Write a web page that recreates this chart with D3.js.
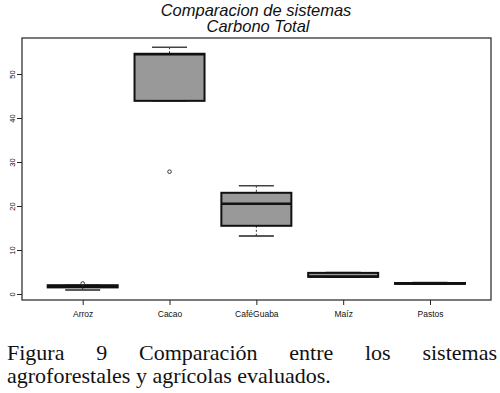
<!DOCTYPE html>
<html>
<head>
<meta charset="utf-8">
<script src="https://cdn.jsdelivr.net/npm/d3@7"></script>
<style>
  body { margin: 0; background: #fff; }
  svg { display: block; }
  .title { font-family: "Liberation Sans", Arial, sans-serif; font-style: italic; font-size: 16.5px; fill: #111; }
  .tick text { font-family: "Liberation Sans", Arial, sans-serif; fill: #111; }
  .caption { font-family: "Liberation Serif", "Times New Roman", serif; font-size: 22px; fill: #111; }
</style>
</head>
<body>
<svg id="chart"></svg>
<script>
// data
var categories = ["Arroz", "Cacao", "CaféGuaba", "Maíz", "Pastos"];
var mins    = [0.9, 43.9, 13.2, 3.8, 2.2];
var q1s     = [1.5, 43.9, 15.5, 3.9, 2.3];
var medians = [1.7, 54.5, 20.5, 4.0, 2.4];
var q3s     = [2.0, 54.6, 23.0, 4.8, 2.5];
var maxs    = [2.0, 56.1, 24.6, 4.9, 2.6];
var outliers = [{cat: "Arroz", value: 2.4}, {cat: "Cacao", value: 27.8}];
var yTicks = [0, 10, 20, 30, 40, 50];

var width = 500, height = 393;
var box = {left: 22, top: 38, right: 491, bottom: 300};

var svg = d3.select("#chart").attr("width", width).attr("height", height);

var x = d3.scalePoint().domain(categories).range([82.7, 430]);
var y = d3.scaleLinear().domain([0, 50]).range([294, 74]);
var boxW = 70;

var stats = categories.map(function(c, i){
    return {cat: c, min: mins[i], q1: q1s[i], med: medians[i], q3: q3s[i], max: maxs[i]};
});

// titles
svg.append("text").attr("class", "title").attr("x", 256).attr("y", 16)
    .attr("text-anchor", "middle").text("Comparacion de sistemas");
svg.append("text").attr("class", "title").attr("x", 258).attr("y", 32)
    .attr("text-anchor", "middle").text("Carbono Total");

// frame
svg.append("rect").attr("x", box.left).attr("y", box.top)
    .attr("width", box.right - box.left).attr("height", box.bottom - box.top)
    .attr("fill", "none").attr("stroke", "#222").attr("stroke-width", 1.2);

// y axis, labels turned parallel to the axis
var yAxis = svg.append("g").attr("transform", "translate(" + box.left + ",0)")
    .call(d3.axisLeft(y).tickValues(yTicks).tickSize(5));
yAxis.select(".domain").remove();
yAxis.selectAll("line").attr("stroke", "#222");
yAxis.selectAll("text")
    .attr("font-size", 7.5)
    .attr("x", 0).attr("y", 0).attr("dy", null)
    .attr("text-anchor", "middle")
    .attr("transform", "translate(-10,0) rotate(-90) translate(0,2.7)");

// x axis
var xAxis = svg.append("g").attr("transform", "translate(0," + box.bottom + ")")
    .call(d3.axisBottom(x).tickSize(5).tickPadding(6));
xAxis.select(".domain").remove();
xAxis.selectAll("line").attr("stroke", "#222");
xAxis.selectAll("text").attr("font-size", 8.5);

// boxes
var g = svg.append("g").selectAll("g").data(stats).enter().append("g");

g.append("line") // whisker lines (dashed)
    .attr("x1", function(d){ return x(d.cat); }).attr("x2", function(d){ return x(d.cat); })
    .attr("y1", function(d){ return y(d.max); }).attr("y2", function(d){ return y(d.q3); })
    .attr("stroke", "#333").attr("stroke-dasharray", "2,2");
g.append("line")
    .attr("x1", function(d){ return x(d.cat); }).attr("x2", function(d){ return x(d.cat); })
    .attr("y1", function(d){ return y(d.q1); }).attr("y2", function(d){ return y(d.min); })
    .attr("stroke", "#333").attr("stroke-dasharray", "2,2");

g.append("line") // caps
    .attr("x1", function(d){ return x(d.cat) - boxW / 4; }).attr("x2", function(d){ return x(d.cat) + boxW / 4; })
    .attr("y1", function(d){ return y(d.max); }).attr("y2", function(d){ return y(d.max); })
    .attr("stroke", "#444").attr("stroke-width", 1.5);
g.append("line")
    .attr("x1", function(d){ return x(d.cat) - boxW / 4; }).attr("x2", function(d){ return x(d.cat) + boxW / 4; })
    .attr("y1", function(d){ return y(d.min); }).attr("y2", function(d){ return y(d.min); })
    .attr("stroke", "#222").attr("stroke-width", 1.5);

g.append("rect")
    .attr("x", function(d){ return x(d.cat) - boxW / 2; })
    .attr("y", function(d){ return y(d.q3); })
    .attr("width", boxW)
    .attr("height", function(d){ return Math.max(0.5, y(d.q1) - y(d.q3)); })
    .attr("fill", "#999").attr("stroke", "#111").attr("stroke-width", 2);

g.append("line") // median
    .attr("x1", function(d){ return x(d.cat) - boxW / 2; }).attr("x2", function(d){ return x(d.cat) + boxW / 2; })
    .attr("y1", function(d){ return y(d.med); }).attr("y2", function(d){ return y(d.med); })
    .attr("stroke", "#111").attr("stroke-width", 2.5);

svg.append("g").selectAll("circle").data(outliers).enter().append("circle")
    .attr("cx", function(d){ return x(d.cat); }).attr("cy", function(d){ return y(d.value); })
    .attr("r", 1.8).attr("fill", "none").attr("stroke", "#333").attr("stroke-width", 1);

// caption, first line justified
var line1 = ["Figura", "9", "Comparación", "entre", "los", "sistemas"];
var cap = svg.append("g");
var words = cap.selectAll("text").data(line1).enter().append("text")
    .attr("class", "caption").attr("y", 360).text(function(d){ return d; });
var widths = [];
words.each(function(){ widths.push(this.getComputedTextLength()); });
var left = 7, right = 497;
var gap = (right - left - d3.sum(widths)) / (line1.length - 1);
var pos = left;
words.attr("x", function(d, i){ var p = pos; pos += widths[i] + gap; return p; });

cap.append("text").attr("class", "caption").attr("x", 7).attr("y", 383)
    .text("agroforestales y agrícolas evaluados.");
</script>
</body>
</html>
